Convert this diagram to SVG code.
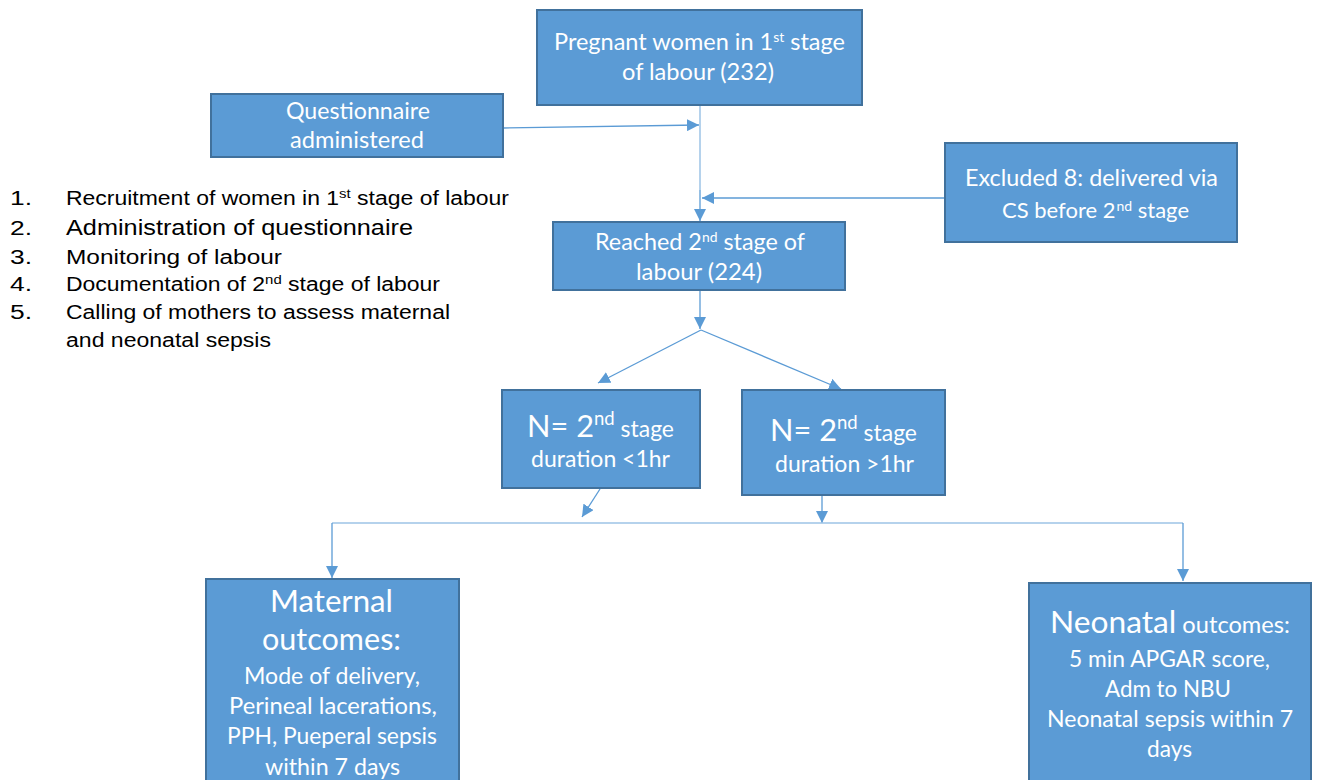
<svg xmlns="http://www.w3.org/2000/svg" width="1320" height="780" viewBox="0 0 1320 780">
<defs>
<marker id="ah" viewBox="0 0 12 12" refX="12" refY="6" markerWidth="12" markerHeight="12" markerUnits="userSpaceOnUse" orient="auto">
<path d="M0,0 L12,6 L0,12 Z" fill="#5b9bd5"/>
</marker>
<style>
.box{fill:#5b9bd5;stroke:#41719c;stroke-width:2}
.bt{font-family:Lato,"Open Sans","Liberation Sans",sans-serif;font-size:23.5px;fill:#fff;text-anchor:middle}
.big{font-size:31.5px}
.sup{font-size:14px}
.conn{stroke:#5b9bd5;stroke-width:1.3;fill:none;marker-end:url(#ah)}
.line{stroke:#9dc3e6;stroke-width:1.5;fill:none}
.lt{font-family:"Liberation Sans",Arial,sans-serif;font-size:20px;fill:#000}
</style>
</defs>
<rect width="1320" height="780" fill="#fff"/>

<g id="connectors">
<line class="line" x1="700" y1="105" x2="700" y2="190"/>
<line class="conn" x1="700" y1="190" x2="700" y2="221"/>
<line class="conn" x1="503" y1="128" x2="699" y2="125"/>
<line class="conn" x1="945" y1="198" x2="702" y2="198"/>
<line class="conn" x1="700" y1="290" x2="700" y2="329"/>
<line class="conn" x1="701" y1="330" x2="598" y2="383"/>
<line class="conn" x1="701" y1="330" x2="841" y2="389"/>
<line class="conn" x1="600" y1="489" x2="582" y2="517"/>
<line class="conn" x1="822" y1="495" x2="822" y2="523"/>
<polyline class="line" points="332,523 1183,523"/>
<line class="conn" x1="332" y1="523" x2="332" y2="578"/>
<line class="conn" x1="1183" y1="523" x2="1183" y2="581"/>
</g>

<g id="n-pregnant">
<rect class="box" x="537" y="10" width="325" height="95"/>
<text class="bt" x="699.5" y="50" textLength="291" lengthAdjust="spacingAndGlyphs">Pregnant women in 1<tspan class="sup" dy="-8">st</tspan><tspan dy="8"> stage</tspan></text>
<text class="bt" x="698" y="80" textLength="152" lengthAdjust="spacingAndGlyphs">of labour (232)</text>
</g>

<g id="n-questionnaire">
<rect class="box" x="211" y="94" width="292" height="63"/>
<text class="bt" x="358" y="119" textLength="144" lengthAdjust="spacingAndGlyphs">Questionnaire</text>
<text class="bt" x="357" y="148" textLength="134" lengthAdjust="spacingAndGlyphs">administered</text>
</g>

<g id="n-excluded">
<rect class="box" x="945" y="143" width="292" height="99"/>
<text class="bt" x="1091.5" y="186" textLength="253" lengthAdjust="spacingAndGlyphs">Excluded 8: delivered via</text>
<text class="bt" x="1095.5" y="218" style="font-size:22px">CS before 2<tspan class="sup" dx="1" dy="-7">nd</tspan><tspan dy="7"> stage</tspan></text>
</g>

<g id="n-reached">
<rect class="box" x="553" y="222" width="292" height="68"/>
<text class="bt" x="700" y="250" textLength="210" lengthAdjust="spacingAndGlyphs">Reached 2<tspan class="sup" dy="-8">nd</tspan><tspan dy="8"> stage of</tspan></text>
<text class="bt" x="699" y="280" textLength="126" lengthAdjust="spacingAndGlyphs">labour (224)</text>
</g>

<g id="n-less1hr">
<rect class="box" x="502" y="390" width="198" height="98"/>
<text class="bt" x="600.5" y="437" textLength="147" lengthAdjust="spacingAndGlyphs"><tspan class="big">N= 2</tspan><tspan font-size="19" dy="-12">nd</tspan><tspan dy="12"> stage</tspan></text>
<text class="bt" x="600.5" y="467" textLength="139" lengthAdjust="spacingAndGlyphs">duration &lt;1hr</text>
</g>

<g id="n-more1hr">
<rect class="box" x="742" y="390" width="203" height="105"/>
<text class="bt" x="843.5" y="441" textLength="147" lengthAdjust="spacingAndGlyphs"><tspan class="big">N= 2</tspan><tspan font-size="19" dy="-12">nd</tspan><tspan dy="12"> stage</tspan></text>
<text class="bt" x="844.5" y="472" textLength="139" lengthAdjust="spacingAndGlyphs">duration &gt;1hr</text>
</g>

<g id="n-maternal">
<rect class="box" x="206" y="579" width="253" height="210"/>
<text class="bt big" x="331.5" y="612" textLength="123" lengthAdjust="spacingAndGlyphs">Maternal</text>
<text class="bt big" x="331.5" y="650" textLength="139" lengthAdjust="spacingAndGlyphs">outcomes:</text>
<text class="bt" x="332" y="684" textLength="176" lengthAdjust="spacingAndGlyphs">Mode of delivery,</text>
<text class="bt" x="333" y="714" textLength="208" lengthAdjust="spacingAndGlyphs">Perineal lacerations,</text>
<text class="bt" x="332" y="744" textLength="210" lengthAdjust="spacingAndGlyphs">PPH, Pueperal sepsis</text>
<text class="bt" x="332.5" y="775" textLength="135" lengthAdjust="spacingAndGlyphs">within 7 days</text>
</g>

<g id="n-neonatal">
<rect class="box" x="1029" y="583" width="282" height="210"/>
<text class="bt" x="1170" y="633" textLength="240" lengthAdjust="spacingAndGlyphs"><tspan class="big">Neonatal</tspan> outcomes:</text>
<text class="bt" x="1169.5" y="667" textLength="201" lengthAdjust="spacingAndGlyphs">5 min APGAR score,</text>
<text class="bt" x="1168" y="697" textLength="126" lengthAdjust="spacingAndGlyphs">Adm to NBU</text>
<text class="bt" x="1170" y="727" textLength="246" lengthAdjust="spacingAndGlyphs">Neonatal sepsis within 7</text>
<text class="bt" x="1169.5" y="757" textLength="45" lengthAdjust="spacingAndGlyphs">days</text>
</g>

<g id="steps-list">
<text class="lt" x="10" y="205" textLength="22" lengthAdjust="spacingAndGlyphs">1.</text>
<text class="lt" x="66" y="205" textLength="443" lengthAdjust="spacingAndGlyphs">Recruitment of women in 1<tspan font-size="13" dy="-7">st</tspan><tspan dy="7"> stage of labour</tspan></text>
<text class="lt" x="10" y="235" textLength="22" lengthAdjust="spacingAndGlyphs">2.</text>
<text class="lt" x="66" y="235" style="font-size:22px" textLength="347" lengthAdjust="spacingAndGlyphs">Administration of questionnaire</text>
<text class="lt" x="10" y="264" textLength="22" lengthAdjust="spacingAndGlyphs">3.</text>
<text class="lt" x="66" y="264" textLength="216" lengthAdjust="spacingAndGlyphs">Monitoring of labour</text>
<text class="lt" x="10" y="291" textLength="22" lengthAdjust="spacingAndGlyphs">4.</text>
<text class="lt" x="66" y="291" textLength="374" lengthAdjust="spacingAndGlyphs">Documentation of 2<tspan font-size="13" dy="-7">nd</tspan><tspan dy="7"> stage of labour</tspan></text>
<text class="lt" x="10" y="319" textLength="22" lengthAdjust="spacingAndGlyphs">5.</text>
<text class="lt" x="66" y="319" textLength="384" lengthAdjust="spacingAndGlyphs">Calling of mothers to assess maternal</text>
<text class="lt" x="66" y="347" textLength="205" lengthAdjust="spacingAndGlyphs">and neonatal sepsis</text>
</g>
</svg>
